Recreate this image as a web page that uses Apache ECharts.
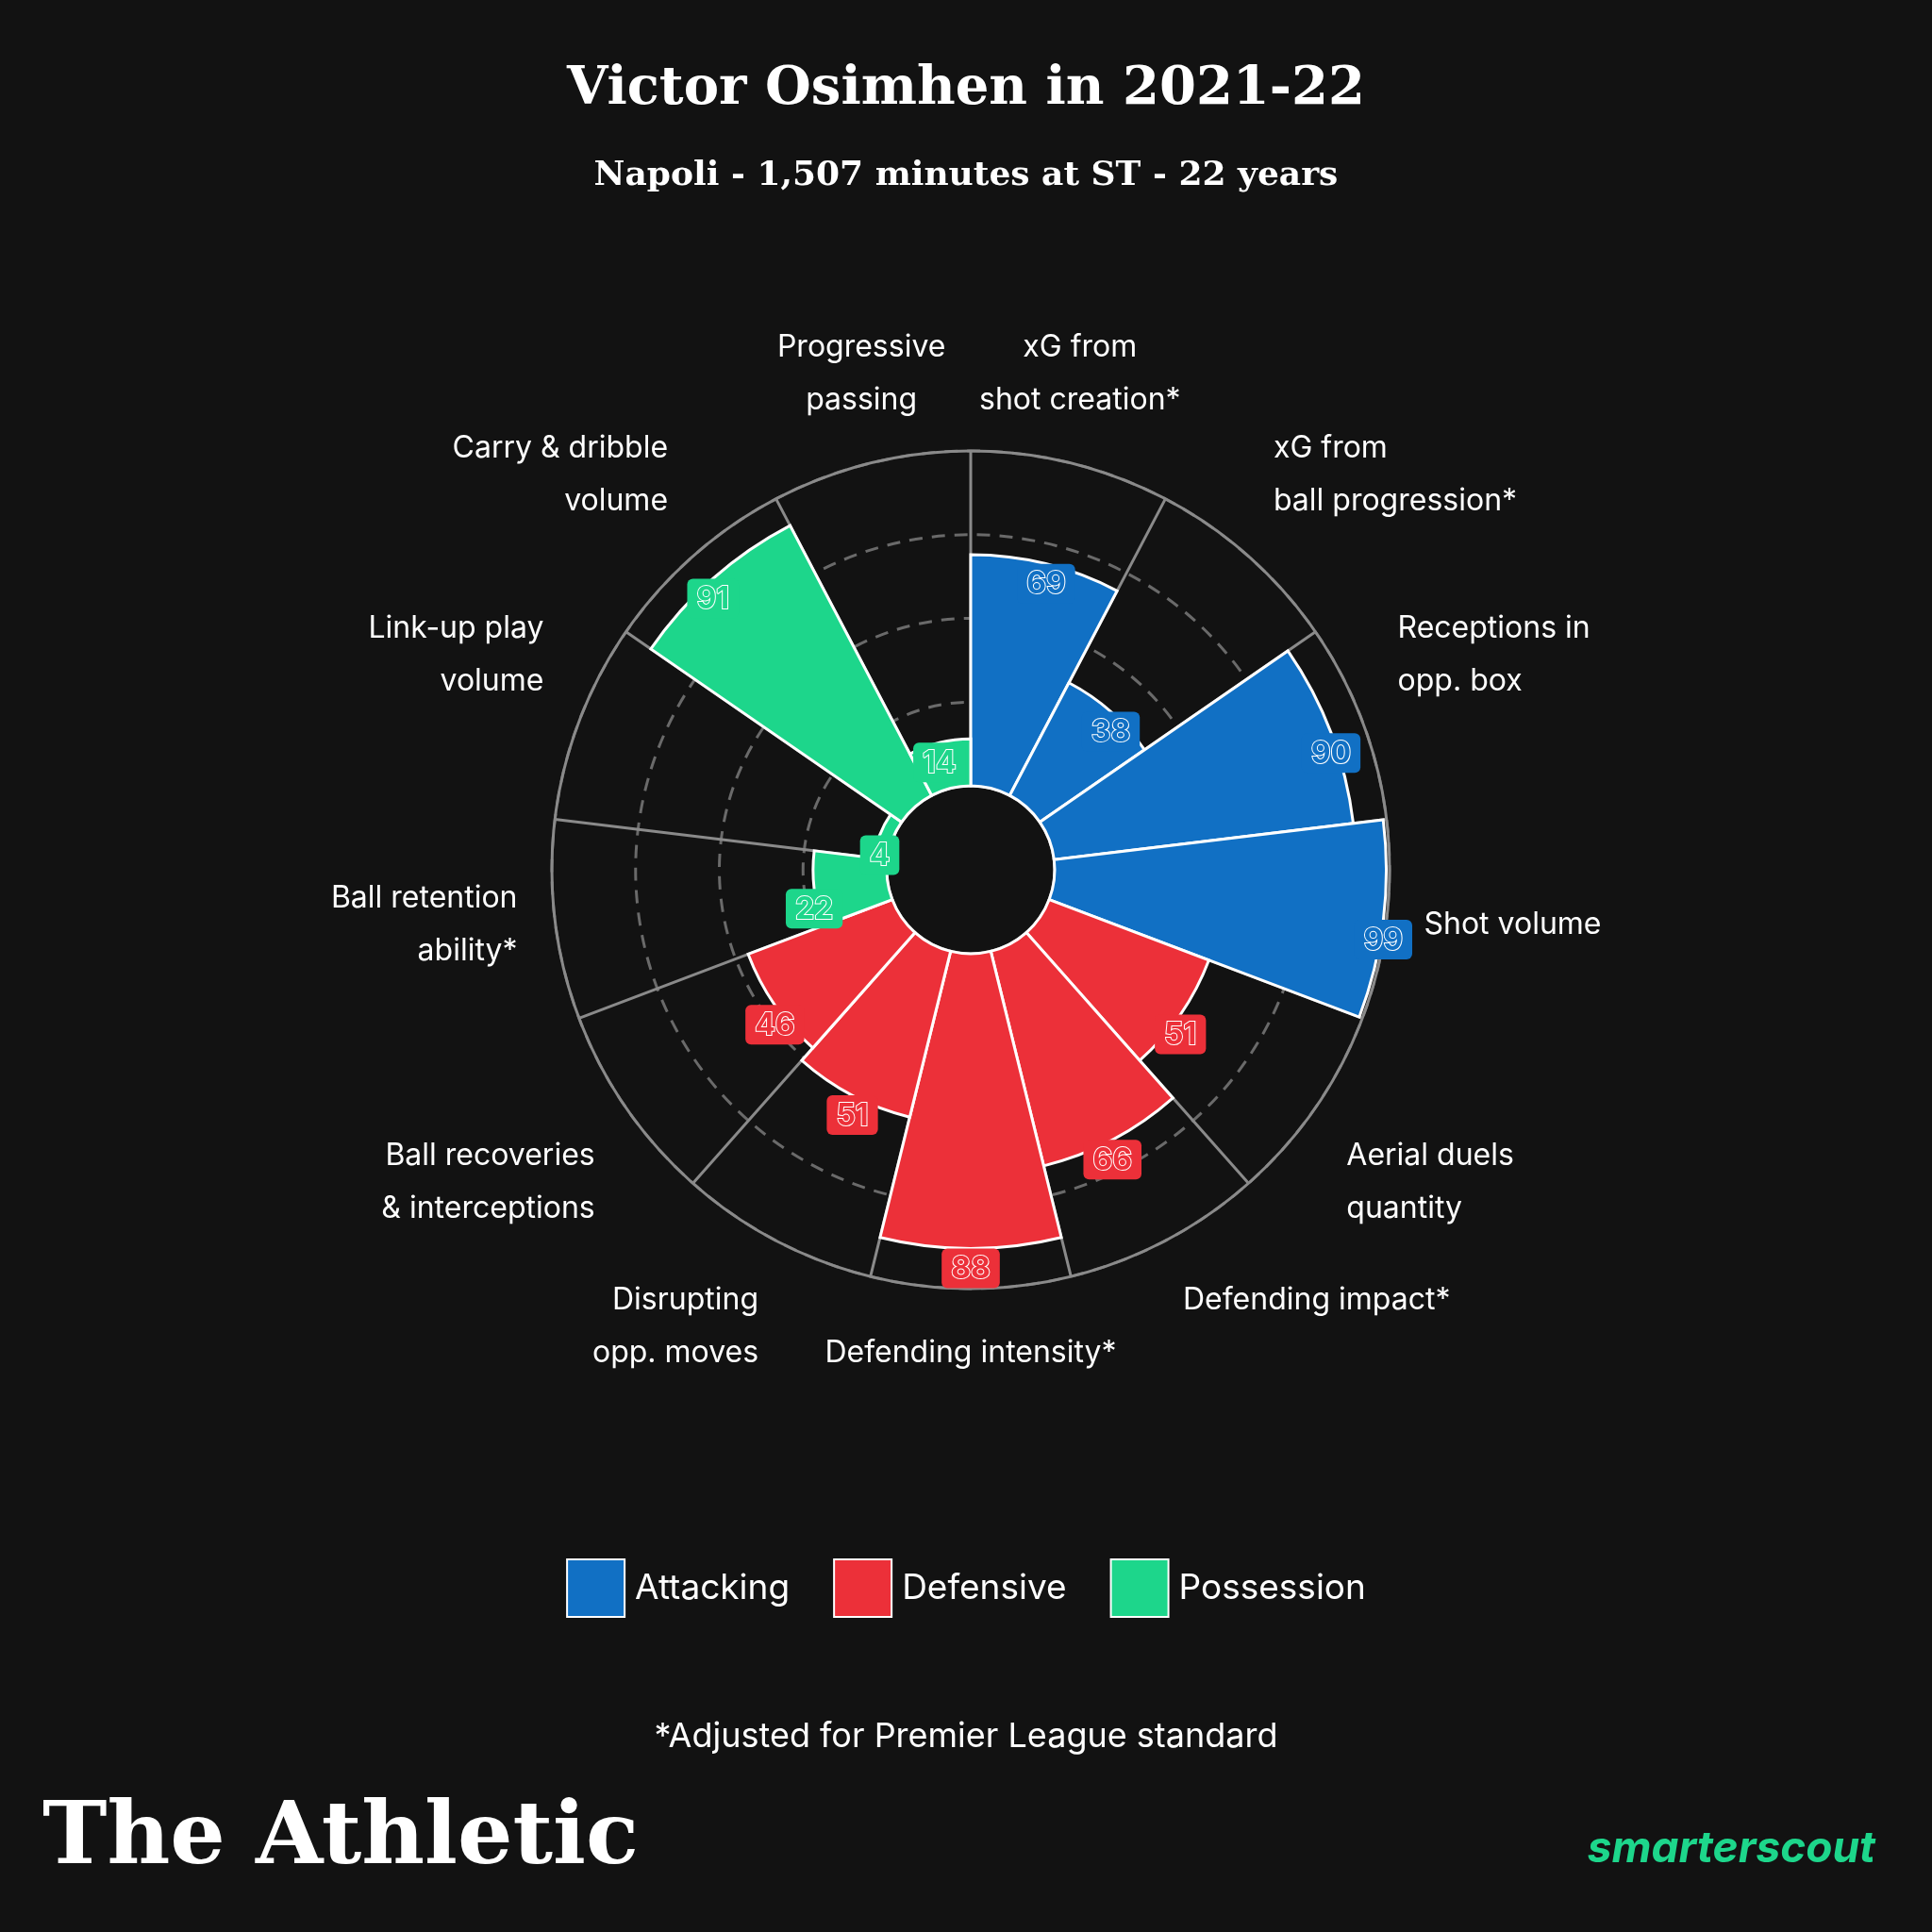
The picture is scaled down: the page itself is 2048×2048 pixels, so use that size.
<!DOCTYPE html>
<html><head><meta charset="utf-8">
<script src="https://cdn.jsdelivr.net/npm/echarts@6/dist/echarts.min.js"></script>
<style>html,body{margin:0;background:#121212}#c{width:2048px;height:2048px}</style>
</head><body><div id="c"></div>
<script>
const categories = ['xG from\nshot creation*','xG from\nball progression*','Receptions in\nopp. box','Shot volume','Aerial duels\nquantity','Defending impact*','Defending intensity*','Disrupting\nopp. moves','Ball recoveries\n& interceptions','Ball retention\nability*','Link-up play\nvolume','Carry & dribble\nvolume','Progressive\npassing'];
const values = [69,38,90,99,51,66,88,51,46,22,4,91,14];
const groups = ['Attacking','Attacking','Attacking','Attacking','Defensive','Defensive','Defensive','Defensive','Defensive','Possession','Possession','Possession','Possession'];
const groupNames = ['Attacking','Defensive','Possession'];
const colors = {Attacking:'#1170c4',Defensive:'#ec3039',Possession:'#1dd68b'};
const F = 'Inter, "Noto Sans", sans-serif';
const series = groupNames.map(g => ({
  name: g, type: 'bar', coordinateSystem: 'polar', stack: 's',
  barCategoryGap: '0%',
  itemStyle: {color: colors[g], borderColor: '#ffffff', borderWidth: 3},
  data: values.map((v,i) => groups[i]===g ? v : '-'),
  label: {show: true, position: 'insideEnd', rotate: 0, distance: 0,
    formatter: p => p.value,
    fontFamily: F, fontSize: 32, fontWeight: 'bold',
    color: colors[g], textBorderColor: '#ffffff', textBorderWidth: 2,
    backgroundColor: colors[g], borderRadius: 6, padding: [6,10,4,10]},
  z: 2
}));
const chart = echarts.init(document.getElementById('c'));
chart.setOption({
  backgroundColor: '#121212',
  title: [
    {text: 'Victor Osimhen in 2021-22', left: 'center', top: 62,
     textStyle: {color: '#fff', fontFamily: '"DejaVu Serif", serif', fontWeight: 'bold', fontSize: 56}},
    {text: 'Napoli - 1,507 minutes at ST - 22 years', left: 'center', top: 164,
     textStyle: {color: '#fff', fontFamily: '"DejaVu Serif", serif', fontWeight: 'bold', fontSize: 36}},
    {text: '*Adjusted for Premier League standard', left: 'center', top: 1818,
     textStyle: {color: '#fff', fontFamily: F, fontWeight: 'normal', fontSize: 36}},
    {text: 'The Athletic', left: 40, top: 1900,
     textStyle: {color: '#fff', fontFamily: '"DejaVu Serif", serif', fontWeight: 'bold', fontSize: 92}},
    {text: 'smarterscout', right: 55, top: 1932,
     textStyle: {color: '#1dd68b', fontFamily: F, fontWeight: 'bold', fontStyle: 'italic', fontSize: 46}}
  ],
  legend: {data: groupNames, bottom: 328, left: 'center', itemWidth: 61, itemHeight: 61, itemGap: 46,
    icon: 'rect', textStyle: {color: '#fff', fontFamily: F, fontSize: 37, padding: [0,0,0,6]}},
  polar: {center: [1029, 922], radius: [89, 444]},
  angleAxis: {type: 'category', data: categories, startAngle: 90, clockwise: true, boundaryGap: true,
    axisLine: {show: true, lineStyle: {color: '#8a8a8a', width: 3}},
    axisTick: {show: false},
    splitLine: {show: true, interval: 0, lineStyle: {color: '#8a8a8a', width: 3}},
    axisLabel: {interval: 0, hideOverlap: false, color: '#fff', fontFamily: F, fontSize: 32, margin: 40, lineHeight: 56}},
  radiusAxis: {min: 0, max: 100, interval: 25,
    axisLine: {show: false}, axisTick: {show: false}, axisLabel: {show: false},
    splitLine: {show: true, lineStyle: {color: '#6a6a6a', width: 3, type: [14, 10]}}},
  series
});
</script></body></html>
